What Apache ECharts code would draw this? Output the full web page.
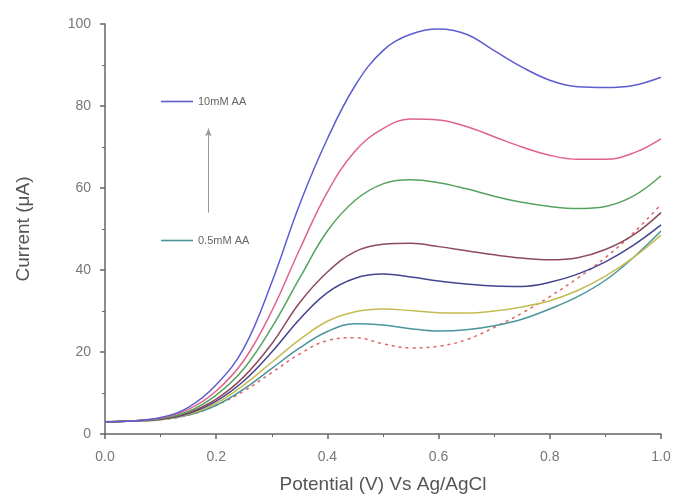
<!DOCTYPE html>
<html>
<head>
<meta charset="utf-8">
<script src="https://cdn.jsdelivr.net/npm/echarts@6/dist/echarts.min.js"></script>
<style>
  html, body { margin: 0; padding: 0; background: #fff; }
  #chart { width: 676px; height: 496px; }
</style>
</head>
<body>
<div id="chart"></div>
<script>
// potential (V)
const potential = [0, 0.05, 0.1, 0.15, 0.2, 0.25, 0.3, 0.35, 0.4, 0.45, 0.5,
  0.55, 0.6, 0.65, 0.7, 0.75, 0.8, 0.85, 0.9, 0.95, 1.0];

// current (uA), top curve first
const aa10 = [3, 3.2, 4.0, 6.5, 12, 21, 37, 56, 72, 85, 93.5, 97.5, 98.8, 97.5, 93.5, 89.5, 86.3, 84.7, 84.5, 85, 87];
const aa8 = [3, 3.2, 3.9, 6, 10.5, 18, 30, 45, 59, 69, 74.5, 76.8, 76.6, 75, 72.5, 70, 68, 67, 67, 68.5, 72];
const aa6 = [3, 3.2, 3.8, 5.5, 9.5, 16, 26, 38, 49.5, 57, 61, 62, 61.3, 59.8, 58, 56.5, 55.5, 55, 55.5, 58, 63];
const aa4 = [3, 3.2, 3.7, 5.2, 8.5, 14, 22, 32, 39.5, 44.5, 46.3, 46.5, 45.7, 44.7, 43.7, 42.9, 42.5, 43, 45, 48.5, 54];
const aa2 = [3, 3.2, 3.6, 5, 8, 13, 20, 28, 34.5, 38, 39, 38.3, 37.3, 36.6, 36.1, 36, 37, 39, 42, 46, 51];
const aa1 = [3, 3.2, 3.5, 4.8, 7.5, 12, 17.5, 23, 27.5, 29.8, 30.5, 30.1, 29.6, 29.5, 30, 31, 32.5, 35, 38.5, 43, 48.5];
const aa05 = [3, 3.2, 3.5, 4.6, 7, 11, 16, 21, 25, 26.9, 26.6, 25.7, 25.1, 25.4, 26.4, 28, 30.5, 33.5, 37.5, 43, 49.5];
const blank = [3, 3.2, 3.5, 4.6, 7, 10.5, 15, 19.5, 22.8, 23.5, 22, 21, 21.4, 23, 26, 29.5, 33.5, 38, 43, 49, 56];

const seriesNames = ['10mM AA', '8mM AA', '6mM AA', '4mM AA', '2mM AA', '1mM AA', '0.5mM AA', 'blank'];
const seriesData = [aa10, aa8, aa6, aa4, aa2, aa1, aa05, blank];
const colors = ['#5d5dd2', '#e0628c', '#55a35c', '#8e4a5c', '#45458f', '#c4bc52', '#4a949c', '#e06464'];

const font = 'Liberation Sans, Arial, sans-serif';

const myChart = echarts.init(document.getElementById('chart'));

const series = seriesNames.map((name, i) => ({
  name: name,
  type: 'line',
  data: potential.map((x, j) => [x, seriesData[i][j]]),
  smooth: 0.4,
  symbol: 'none',
  z: 10 - i,
  lineStyle: {
    color: colors[i],
    width: 1.5,
    type: name === 'blank' ? [3, 4] : 'solid'
  },
  itemStyle: { color: colors[i] }
}));

// arrow from low to high concentration
series[0].markLine = {
  silent: true,
  symbol: ['none', 'arrow'],
  symbolSize: [5, 8],
  label: { show: false },
  lineStyle: { color: '#999', width: 1, type: 'solid' },
  data: [[{ coord: [0.186, 54] }, { coord: [0.186, 74.5] }]]
};

const option = {
  backgroundColor: '#fff',
  animation: false,
  grid: { left: 105, right: 15, top: 24, bottom: 62, outerBoundsMode: 'none' },
  legend: {
    data: ['10mM AA', '0.5mM AA'],
    orient: 'vertical',
    left: 156,
    top: 91,
    itemGap: 128,
    itemWidth: 32,
    itemHeight: 10,
    icon: 'path://M0,4.2L32,4.2L32,5.8L0,5.8Z',
    textStyle: { fontFamily: font, fontSize: 11, color: '#666' }
  },
  xAxis: {
    type: 'value',
    min: 0,
    max: 1,
    interval: 0.2,
    name: 'Potential (V) Vs Ag/AgCl',
    nameLocation: 'middle',
    nameGap: 41,
    nameTextStyle: { fontFamily: font, fontSize: 19, color: '#555' },
    axisLine: { lineStyle: { color: '#666', width: 1.5 } },
    axisTick: { length: 5, lineStyle: { color: '#666', width: 1.5 } },
    minorTick: { show: true, splitNumber: 2, length: 3, lineStyle: { color: '#666' } },
    splitLine: { show: false },
    axisLabel: {
      fontFamily: font, fontSize: 14, color: '#777', margin: 16,
      formatter: v => v.toFixed(1)
    }
  },
  yAxis: {
    type: 'value',
    min: 0,
    max: 100,
    interval: 20,
    name: 'Current (\u03bcA)',
    nameLocation: 'middle',
    nameGap: 72,
    nameTextStyle: { fontFamily: font, fontSize: 19, color: '#555' },
    axisLine: { show: true, lineStyle: { color: '#666', width: 1.5 } },
    axisTick: { show: true, length: 5, lineStyle: { color: '#666', width: 1.5 } },
    minorTick: { show: true, splitNumber: 2, length: 3, lineStyle: { color: '#666' } },
    splitLine: { show: false },
    axisLabel: { fontFamily: font, fontSize: 14, color: '#777', margin: 14 }
  },
  series: series
};

myChart.setOption(option);
</script>
</body>
</html>
